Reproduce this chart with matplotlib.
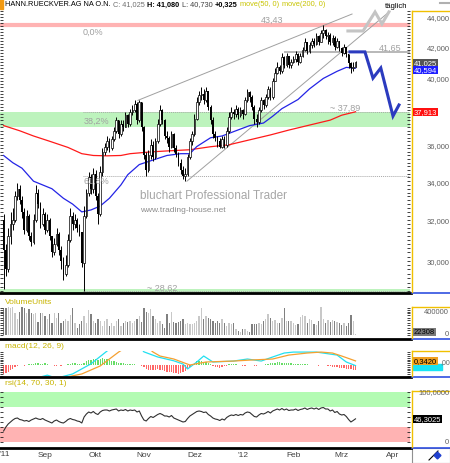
import matplotlib
matplotlib.use('Agg')
import matplotlib.pyplot as plt
from matplotlib.lines import Line2D
from matplotlib.patches import Rectangle
from matplotlib.ticker import FixedLocator, NullFormatter, FuncFormatter, NullLocator
import numpy as np

plt.rcParams['font.family'] = ['Liberation Sans', 'DejaVu Sans']

W, H = 450, 464

# --- daily candles (trading days from Aug 8 2011 to Mar 9 2012)
first_open = 32.0
closes = [30.5, 29.6, 31.2, 31.8, 32.0, 33.2, 33.6, 33.0, 32.4, 31.5,
          32.2, 31.2, 30.9, 32.0, 33.4, 32.8, 31.8, 32.3, 31.5, 32.0,
          31.2, 30.4, 30.8, 31.3, 30.5, 30.0, 29.4, 29.8, 31.0, 32.2,
          31.8, 32.0, 31.6, 31.4, 29.9, 32.2, 33.4, 34.2, 33.6, 34.4,
          33.2, 32.3, 34.5, 35.6, 35.9, 36.2, 35.8, 36.3, 36.8, 37.4,
          36.6, 37.2, 37.0, 37.7, 37.2, 37.9, 38.0, 38.4, 37.4, 38.5,
          37.0, 35.4, 34.6, 35.4, 36.0, 35.3, 36.2, 37.2, 38.0, 37.4,
          36.5, 36.4, 35.9, 36.6, 35.8, 35.5, 35.0, 34.6, 34.3, 34.4,
          35.3, 36.2, 36.6, 37.5, 38.5, 38.9, 39.0, 38.6, 39.2, 38.2,
          37.4, 36.6, 36.4, 36.2, 35.9, 36.3, 36.0, 36.8, 37.6, 37.9,
          37.8, 38.1, 37.7, 38.0, 37.8, 38.6, 39.1, 38.8, 38.2, 37.5,
          37.3, 38.0, 38.6, 38.3, 38.8, 39.3, 38.8, 39.8, 40.3, 40.7,
          40.4, 41.3, 40.8, 41.4, 40.8, 41.0, 41.2, 41.5, 41.0, 41.4,
          41.8, 42.3, 41.7, 42.1, 42.4, 42.2, 42.7, 42.3, 42.9, 43.1,
          42.7, 42.8, 42.3, 42.6, 42.0, 42.4, 41.9, 41.6, 42.0, 41.5,
          40.9, 40.6, 40.7, 41.025]
highs = [32.3, 30.8, 31.6, 32.4, 32.6, 33.5, 33.9, 33.8, 33.2, 32.6,
         32.5, 32.3, 31.4, 32.3, 33.8, 33.6, 32.9, 32.6, 32.4, 32.3,
         32.1, 31.2, 31.1, 31.6, 31.4, 30.7, 30.2, 30.3, 31.3, 32.6,
         32.4, 32.3, 32.1, 31.8, 31.3, 32.7, 33.6, 34.5, 34.4, 34.7,
         34.6, 33.4, 34.8, 35.8, 36.1, 36.5, 36.4, 36.5, 37.0, 37.6,
         37.4, 37.4, 37.4, 37.9, 37.8, 38.1, 38.3, 38.6, 38.5, 38.6,
         38.3, 37.1, 35.6, 35.7, 36.3, 36.2, 36.4, 37.5, 38.3, 38.1,
         37.5, 36.8, 36.5, 36.8, 36.7, 36.0, 35.6, 35.2, 34.8, 34.7,
         35.5, 36.4, 36.8, 37.8, 38.8, 39.2, 39.4, 39.3, 39.4, 39.2,
         38.3, 37.6, 36.8, 36.5, 36.4, 36.5, 36.5, 37.0, 37.9, 38.2,
         38.1, 38.3, 38.2, 38.2, 38.1, 38.8, 39.3, 39.2, 38.9, 38.3,
         37.8, 38.2, 38.8, 38.7, 39.0, 39.5, 39.4, 40.0, 40.6, 41.0,
         40.8, 41.6, 41.4, 41.6, 41.3, 41.2, 41.4, 41.7, 41.6, 41.6,
         42.0, 42.6, 42.3, 42.3, 42.6, 42.6, 42.9, 42.8, 43.1, 43.43,
         43.2, 43.0, 42.9, 42.8, 42.7, 42.6, 42.4, 42.0, 42.2, 42.0,
         41.4, 41.0, 41.0, 41.08]
lows = [28.7, 29.3, 29.5, 30.8, 31.5, 31.9, 33.0, 32.8, 32.1, 31.3,
        31.4, 31.0, 30.7, 30.8, 31.9, 32.6, 31.6, 31.7, 31.3, 31.4,
        31.0, 30.2, 30.3, 30.7, 30.3, 29.6, 29.1, 29.3, 29.7, 30.9,
        31.5, 31.6, 31.4, 31.2, 29.7, 28.62, 32.1, 33.2, 33.3, 33.4,
        33.0, 31.8, 32.2, 34.3, 35.4, 35.7, 35.6, 35.7, 36.2, 36.7,
        36.4, 36.5, 36.8, 37.0, 37.0, 37.1, 37.7, 37.9, 37.2, 37.3,
        36.8, 35.2, 34.3, 34.5, 35.2, 35.1, 35.2, 36.1, 37.1, 37.2,
        36.3, 36.1, 35.6, 35.8, 35.6, 35.3, 34.8, 34.4, 34.1, 34.0,
        34.3, 35.2, 36.0, 36.5, 37.4, 38.3, 38.6, 38.4, 38.5, 38.0,
        37.2, 36.4, 36.2, 35.9, 35.8, 35.8, 35.8, 35.9, 36.7, 37.5,
        37.5, 37.6, 37.5, 37.6, 37.5, 37.7, 38.5, 38.5, 38.0, 37.2,
        37.0, 37.2, 37.9, 38.1, 38.2, 38.7, 38.6, 38.7, 39.8, 40.2,
        40.2, 40.3, 40.6, 40.7, 40.6, 40.6, 40.9, 41.0, 40.8, 40.9,
        41.3, 41.7, 41.5, 41.6, 41.9, 42.0, 42.1, 42.1, 42.3, 42.6,
        42.5, 42.2, 42.1, 42.1, 41.8, 41.9, 41.7, 41.4, 41.5, 41.3,
        40.6, 40.3, 40.4, 40.73]

# moving averages (day index, value)
ma50_day = [0, 4, 8, 13, 17, 21, 26, 30, 34, 38, 42, 46, 51, 54, 59, 65, 71, 77,
            81, 84, 90, 95, 101, 107, 113, 117, 121, 128, 133, 139, 145, 149, 153]
ma50 = [35.4, 35.0, 34.7, 34.0, 33.8, 33.6, 33.1, 32.8, 32.4, 32.5, 32.7, 33.1,
        33.8, 34.35, 34.9, 35.15, 35.4, 35.5, 35.5, 35.9, 36.4, 36.5, 36.8, 37.1,
        37.25, 37.65, 38.1, 38.65, 39.3, 39.95, 40.4, 40.65, 40.594]
ma200_day = [0, 7, 13, 20, 28, 34, 39, 45, 51, 55, 64, 72, 81, 90, 98, 107, 116,
             124, 133, 142, 147, 153]
ma200 = [37.1, 36.8, 36.5, 36.2, 35.85, 35.5, 35.4, 35.38, 35.4, 35.5, 35.6,
         35.66, 35.72, 35.89, 36.0, 36.28, 36.56, 36.84, 37.13, 37.42, 37.71, 37.913]

# drawn objects on the price chart
fib_high, fib_low = 43.43, 28.62
fib_382, fib_618 = 37.89, 34.28
green_zone = (37.0, 37.89)
resist = 41.65
upper_trend = ([58.4, 151.5], [38.6, 44.2])
lower_trend = ([79.7, 168.0], [34.0, 44.4])
blue_path_day = [150.6, 157.1, 160.6, 164.0, 169.3, 171.9]
blue_path = [41.65, 41.65, 39.97, 40.61, 37.66, 38.32]
gray_path_day = [149.7, 156.3, 161.5, 164.5, 167.5]
gray_path = [43.04, 43.04, 44.34, 43.52, 44.34]

# volume in thousands
volume = [476, 476, 493, 476, 493, 389, 273, 400, 493, 476,
          389, 458, 389, 360, 389, 226, 377, 389, 331, 273,
          360, 215, 389, 302, 389, 215, 244, 273, 244, 342,
          476, 215, 128, 186, 244, 331, 215, 435, 360, 244,
          215, 284, 244, 157, 244, 284, 157, 215, 157, 244,
          284, 157, 215, 244, 226, 244, 215, 244, 273, 331,
          226, 476, 400, 377, 458, 331, 284, 215, 244, 186,
          128, 360, 215, 400, 226, 215, 226, 244, 284, 186,
          215, 186, 186, 215, 244, 331, 476, 273, 331, 302,
          273, 244, 215, 244, 215, 273, 215, 157, 215, 186,
          215, 99, 70, 52, 110, 99, 70, 52, 186, 186,
          186, 215, 186, 244, 273, 360, 302, 244, 261, 215,
          215, 302, 476, 244, 244, 244, 215, 168, 186, 319,
          342, 331, 215, 273, 261, 186, 168, 244, 493, 273,
          215, 261, 226, 261, 244, 226, 215, 168, 215, 157,
          215, 342, 244, 23]

# macd
macd_day = [0, 10, 19, 23, 30, 38, 45, 51, 56, 61, 67, 74, 78, 80, 84, 87, 91,
            100, 106, 112, 117, 122, 126, 136, 145, 149, 153]
macd = [-1.9, -1.3, -0.85, -1.1, -0.75, 0.1, 1.17, 2.2, 2.3, 1.1, 0.67, 0.35,
        0.08, -0.33, 0.25, 0.75, 0.25, 0.33, 0.5, 0.33, 0.67, 1.0, 1.08, 1.08,
        0.83, 0.25, -0.05]
signal_day = [0, 20, 34, 42, 50, 55, 60, 65, 68, 74, 81, 88, 100, 108, 117, 124,
              132, 138, 143, 147, 153]
signal = [-2.0, -1.3, -0.75, -0.08, 1.08, 1.7, 1.9, 1.08, 0.75, 0.5, 0.0, 0.25,
          0.33, 0.42, 0.5, 0.83, 1.0, 1.08, 1.0, 0.75, 0.342]
hist = [-0.75, -0.7, -0.6, -0.45, -0.3, -0.15, -0.05, 0.03, -0.03, -0.05,
        0.02, 0.05, 0.1, 0.12, 0.18, 0.15, 0.12, 0.1, 0.14, 0.08,
        0.03, -0.04, -0.06, -0.05, -0.03, -0.06, -0.04, 0.02, 0.06, 0.12,
        0.15, 0.14, 0.1, 0.05, 0.08, 0.2, 0.3, 0.38, 0.45, 0.5,
        0.48, 0.42, 0.5, 0.55, 0.52, 0.46, 0.4, 0.35, 0.3, 0.25,
        0.2, 0.18, 0.15, 0.12, 0.1, 0.08, 0.07, 0.06, 0.04, 0.03,
        -0.1, -0.2, -0.3, -0.38, -0.42, -0.45, -0.4, -0.35, -0.4, -0.45,
        -0.5, -0.55, -0.6, -0.62, -0.65, -0.7, -0.72, -0.68, -0.6, -0.5,
        -0.35, -0.15, 0.05, 0.2, 0.3, 0.35, 0.32, 0.28, 0.22, 0.15,
        0.05, -0.08, -0.15, -0.2, -0.22, -0.18, -0.12, -0.05, 0.05, 0.08,
        0.1, 0.06, 0.03, -0.03, -0.06, -0.08, 0.02, 0.04, -0.04, -0.06,
        -0.05, -0.03, 0.02, 0.03, 0.06, 0.1, 0.15, 0.18, 0.2, 0.22,
        0.22, 0.2, 0.18, 0.2, 0.16, 0.14, 0.12, 0.1, 0.08, 0.1,
        0.08, 0.06, 0.05, 0.04, 0.03, 0.02, -0.02, -0.05, -0.04, 0.02,
        0.03, -0.05, -0.1, -0.14, -0.18, -0.2, -0.22, -0.25, -0.28, -0.3,
        -0.33, -0.36, -0.38, -0.4]

# rsi(14)
rsi = [22, 30, 36, 40, 44, 47, 48, 45, 44, 42, 43, 41, 44, 46, 48, 46, 45, 47, 44, 42,
       40, 38, 42, 44, 41, 39, 38, 41, 45, 47, 45, 44, 42, 41, 38, 50, 56, 60, 58, 61,
       57, 55, 60, 63, 64, 64, 62, 64, 65, 66, 62, 64, 63, 65, 62, 64, 63, 64, 60, 62,
       52, 44, 42, 47, 51, 49, 52, 55, 57, 55, 52, 52, 50, 53, 48, 46, 44, 42, 40, 41,
       47, 52, 55, 58, 61, 62, 61, 59, 60, 55, 52, 48, 46, 45, 43, 46, 44, 49, 52, 54,
       53, 55, 53, 55, 54, 58, 60, 59, 55, 51, 50, 54, 57, 56, 58, 61, 58, 62, 64, 66,
       64, 67, 64, 66, 63, 64, 64, 66, 63, 65, 66, 68, 65, 67, 68, 66, 68, 65, 68, 69,
       66, 66, 62, 64, 59, 61, 56, 54, 55, 51, 45, 40, 43, 46.3]

month_day = [18, 40, 61, 83, 104, 126, 147, 169]
month_lbl = ['Sep', 'Okt', 'Nov', 'Dez', "'12", 'Feb', 'Mrz', 'Apr']

# header pieces: text, colour, weight
header = [('C: 41,025', '#707070', 'normal'), ('H: 41,080', 'black', 'bold'),
          ('L: 40,730', '#404040', 'normal'), ('+0,325', 'black', 'bold'),
          ('move(50, 0)', '#c8c400', 'normal'), ('move(200, 0)', '#c8c400', 'normal')]

# ------------------------------------------------------------------
c = np.array(closes)
o = np.array([first_open] + closes[:-1])
hi = np.maximum(np.array(highs), np.maximum(o, c))
lo = np.minimum(np.array(lows), np.minimum(o, c))
days = np.arange(len(c))
up = c >= o
XL = (-3.6 / 2.3, (410 - 3.6) / 2.3)

fig = plt.figure(figsize=(4.5, 4.64), dpi=100)
fig.patch.set_facecolor('white')
rend = fig.canvas.get_renderer()


def fx(x):
    return x / W


def fy(y):
    return 1 - y / H


def panel(y0, y1):
    a = fig.add_axes([0, 1 - y1 / H, 410 / W, (y1 - y0) / H])
    a.set_xlim(*XL)
    for s in a.spines.values():
        s.set_visible(False)
    a.xaxis.set_major_locator(NullLocator())
    a.tick_params(axis='y', which='both', direction='in', left=True, right=True,
                  labelleft=False, labelright=False, length=2.5, width=0.6, color='#202020')
    return a


def ftext(x, y, s, **kw):
    kw.setdefault('fontsize', 5.5)
    kw.setdefault('va', 'center')
    return fig.text(fx(x), fy(y), s, **kw)


def hline(x0, x1, y, col, lw):
    fig.add_artist(Line2D([fx(x0), fx(x1)], [fy(y), fy(y)], color=col, lw=lw))


def vline(x, y0, y1, col, lw):
    fig.add_artist(Line2D([fx(x), fx(x)], [fy(y0), fy(y1)], color=col, lw=lw))


# ---------------- price panel
ax = panel(10, 293.5)
ax.set_yscale('log')
ax.set_ylim(28.55, 44.55)
ax.yaxis.set_major_locator(FixedLocator([30, 32, 34, 36, 40, 42, 44]))
ax.yaxis.set_minor_locator(FixedLocator(np.arange(28.6, 44.6, 0.2)))
ax.yaxis.set_major_formatter(FuncFormatter(lambda v, p: f"{v:.3f}".replace('.', ',')))
ax.yaxis.set_minor_formatter(NullFormatter())
ax.tick_params(axis='y', which='major', labelright=True, pad=12, labelsize=5.5,
               labelcolor='#606060')

ax.axhspan(*green_zone, color='#bdf3bd', lw=0, zorder=0)
ax.axhspan(28.55, 28.72, color='#bdf3bd', lw=0, zorder=0)
ax.axhline(fib_high, color='#ffb3b3', lw=3, zorder=1)
ax.hlines([fib_382, fib_618, fib_low], 34.5, XL[1], colors='#a8a8a8',
          linestyles=(0, (1, 1)), lw=0.7, zorder=1)
ax.hlines(resist, 122, XL[1], colors='#b8b8b8', lw=1.4, zorder=1)
ax.plot(*upper_trend, color='#a0a0a0', lw=0.7, zorder=2)
ax.plot(*lower_trend, color='#a0a0a0', lw=0.7, zorder=2)
ax.plot(ma200_day, ma200, color='#ff1a1a', lw=0.9, zorder=2)
ax.plot(ma50_day, ma50, color='#2424e6', lw=0.9, zorder=2)

ax.vlines(days, lo, hi, color='black', lw=0.7, zorder=3)
ax.bar(days[up], (c - o)[up], bottom=o[up], width=0.7, facecolor='white',
       edgecolor='black', lw=0.5, zorder=4)
ax.bar(days[~up], (o - c)[~up], bottom=c[~up], width=0.7, color='black', lw=0, zorder=4)

ax.plot(gray_path_day, gray_path, color='#c4c4c4', lw=2.2, zorder=5, solid_joinstyle='miter')
ax.plot(blue_path_day, blue_path, color='#2b3bbf', lw=2.2, zorder=5, solid_joinstyle='miter')

# level / watermark texts
gcol = '#a0a0a0'
ftext(272, 20, '43,43', color=gcol, fontsize=6.5, ha='center')
ftext(83, 32, '0,0%', color=gcol, fontsize=6.5)
ftext(379, 48, '41,65', color=gcol, fontsize=6.5)
ftext(330, 108, '~ 37,89', color=gcol, fontsize=6.5)
ftext(84, 121, '38,2%', color=gcol, fontsize=6.5)
ftext(83, 181, '61,8%', color=gcol, fontsize=6.5)
ftext(147, 288, '~ 28,62', color=gcol, fontsize=6.5)
ftext(140, 196, 'bluchart Professional Trader', color='#a6a6a6', fontsize=8.5)
ftext(140, 211, 'www.trading-house.net', color='#8c8c8c', fontsize=6)

# header
fig.add_artist(Rectangle((0, fy(10)), fx(3), 10 / H, color='#f29a12'))
t = ftext(5, 5, 'HANN.RUECKVER.AG NA O.N.', color='black', fontsize=5.3)
x = 5 + t.get_window_extent(renderer=rend).width + 2.5
for s, col, wt in header:
    t = ftext(x, 5, s, color=col, fontweight=wt, fontsize=5.3)
    x += t.get_window_extent(renderer=rend).width + 2.5
ftext(385, 6, 'täglich', color='black')
hline(440, 450, 4, '#b0b0b0', 1.5)


def box(x, y, s, bg, fg):
    return ftext(x, y, s, color=fg, fontsize=5.5,
                 bbox=dict(boxstyle='square,pad=0.12', fc=bg, ec='none'))


box(414, 64, '41,025', '#555555', 'white')
box(414, 71, '40,594', '#1e1eff', 'white')
box(414, 113, '37,913', '#ff1010', 'white')

# ---------------- volume
av = panel(307, 336)
av.set_ylim(0, 504)
av.yaxis.set_major_locator(FixedLocator([0, 400]))
av.yaxis.set_minor_locator(FixedLocator(np.arange(0, 504, 43)))
vol_col = np.where(up, '#c8c8c8', '#808080')
av.bar(days, volume, width=0.55, color=vol_col, lw=0)
ftext(5, 302, 'VolumeUnits', color='#c8b400', fontsize=6)
ftext(449, 313, '400000', color='#606060', ha='right')
ftext(449, 334, '0', color='#606060', ha='right')
box(414, 333, '22308', '#7a7a7a', 'black')

# ---------------- macd
am = panel(352, 377)
am.set_ylim(-0.92, 1.17)
am.yaxis.set_major_locator(NullLocator())
am.yaxis.set_minor_locator(FixedLocator(np.arange(-0.9, 1.17, 0.15)))
h = np.array(hist)
am.bar(days, h, width=0.55, color=np.where(h >= 0, '#66dd66', '#ff6666'), lw=0)
am.plot(macd_day, macd, color='#22e0f0', lw=0.9)
am.plot(signal_day, signal, color='#f5a030', lw=0.9)
ftext(5, 347, 'macd(12, 26, 9)', color='#c8b400', fontsize=6)
fig.add_artist(Rectangle((fx(413), fy(371)), 29 / W, 6 / H, color='#18e4f4', zorder=2))
box(414, 362, '0,3420', '#f0a020', 'black')
ftext(440, 363, ',00', color='#606060', fontsize=5)

# ---------------- rsi
ar = panel(391, 446)
ar.set_ylim(-6, 104)
ar.yaxis.set_major_locator(NullLocator())
ar.yaxis.set_minor_locator(FixedLocator(np.arange(0, 101, 10)))
ar.axhspan(70, 100, color='#b3fbb3', lw=0, zorder=0)
ar.axhspan(0, 30, color='#ffb3b3', lw=0, zorder=0)
ar.plot(days, rsi, color='#303030', lw=0.8)
ftext(5, 384, 'rsi(14, 70, 30, 1)', color='#c8b400', fontsize=6)
ftext(450, 393, '100,0000', color='#606060', ha='right')
ftext(449, 443, '0', color='#606060', ha='right')
box(414, 420, '46,3025', 'black', 'white')

# month labels
ar.set_xticks(month_day, month_lbl)
ar.tick_params(axis='x', length=0, pad=4, labelsize=6, labelcolor='#404040')
ftext(0, 455, "'11", color='#404040', fontsize=6)

# frames / separators
for y in (293.5, 339.5, 377.5, 448.5):
    hline(0, 411, y, 'black', 2)
    hline(412, 450, y, '#3050e0', 1.2)
for y0, y1 in ((12, 293), (308, 339), (352, 377), (392, 448)):
    vline(412, y0, y1, '#f0c000', 1)
    hline(412, 450, y0, '#f0c000', 1)

# corner icon box
fig.add_artist(Rectangle((fx(412), fy(464)), 38 / W, 15 / H, fill=False, ec='#909090', lw=0.8))
fig.add_artist(Line2D([fx(429), fx(438)], [fy(461), fy(452)], color='black', lw=0.8))
fig.add_artist(Line2D([fx(437)], [fy(456)], marker='D', ms=3.5, color='#2040d0'))

fig.savefig('out.png', dpi=100)
